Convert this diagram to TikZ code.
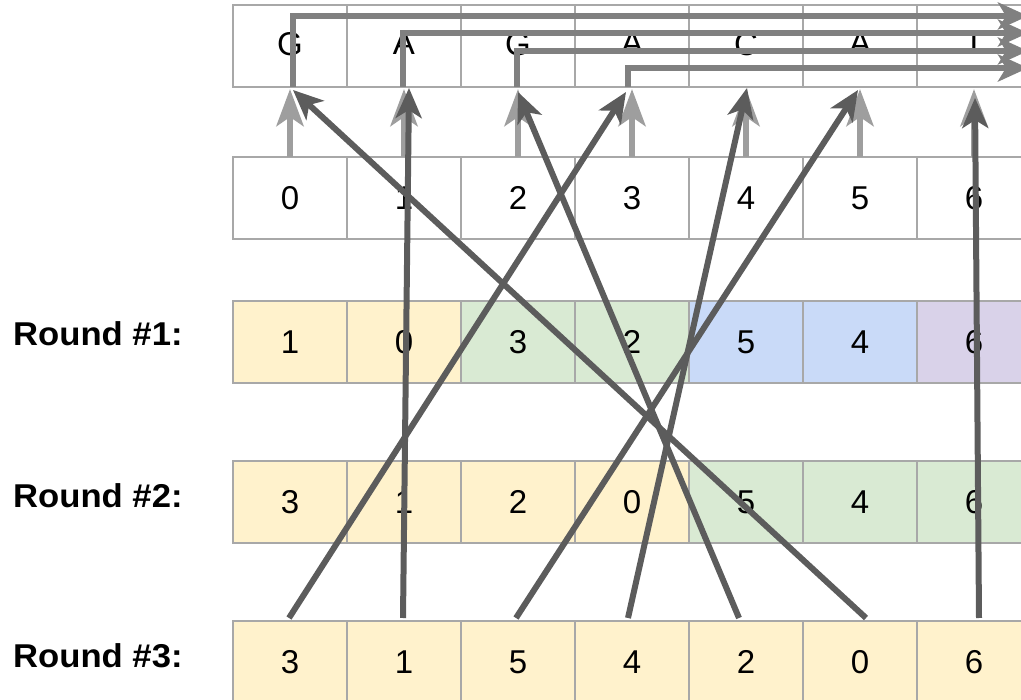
\documentclass[tikz,border=0pt]{standalone}
\usepackage{fontspec}
\setmainfont{Liberation Sans}
\newfontfamily\labelfont[FakeStretch=1.05]{Liberation Sans}
\usetikzlibrary{arrows.meta}

\definecolor{cellline}{HTML}{A8A8A8}
\definecolor{yel}{HTML}{FFF2CC}
\definecolor{grn}{HTML}{D9EAD3}
\definecolor{blu}{HTML}{C9DAF8}
\definecolor{pur}{HTML}{D9D2E9}
\definecolor{lightg}{HTML}{9E9E9E}
\definecolor{midg}{HTML}{808080}
\definecolor{darkg}{HTML}{5C5C5C}

\tikzset{
  cell/.style={draw=cellline, line width=1.5pt, minimum width=114pt,
    minimum height=82pt, inner sep=0pt, outer sep=0pt,
    font=\fontsize{33}{40}\selectfont},
  lettercell/.style={cell, fill=white, text depth=5pt},
  rowlabel/.style={anchor=base west, inner sep=0pt,
    font=\labelfont\fontsize{33}{38}\selectfont\bfseries},
  idxarrow/.style={draw=lightg, line width=6.5pt,
    -{Stealth[length=37pt,width=27pt,inset=9pt]}},
  routearrow/.style={draw=midg, line width=6pt,
    -{Stealth[length=30pt,width=27pt,inset=8pt]}},
  permarrow/.style={draw=darkg, line width=6pt,
    -{Stealth[length=30pt,width=26pt,inset=8pt]}}
}

\begin{document}
\begin{tikzpicture}[x=1pt, y=-1pt]
  \useasboundingbox (0,0) rectangle (1021,700);
  \clip (0,0) rectangle (1021,700);

  % sequence row
  \foreach \v [count=\k from 0] in {G,A,G,A,C,A,T}
    \node[lettercell] (t\k) at (290+114*\k, 46) {\v};

  % index row
  \foreach \k in {0,...,6}
    \node[cell, fill=white] (i\k) at (290+114*\k, 198) {\k};

  % round rows
  \foreach \v/\c [count=\k from 0] in {1/yel,0/yel,3/grn,2/grn,5/blu,4/blu,6/pur}
    \node[cell, fill=\c] (a\k) at (290+114*\k, 342) {\v};
  \foreach \v/\c [count=\k from 0] in {3/yel,1/yel,2/yel,0/yel,5/grn,4/grn,6/grn}
    \node[cell, fill=\c] (b\k) at (290+114*\k, 502) {\v};
  \foreach \v [count=\k from 0] in {3,1,5,4,2,0,6}
    \node[cell, fill=yel] (c\k) at (290+114*\k, 662) {\v};

  % labels
  \node[rowlabel] (l1) at (13,346) {Round \#1:};
  \node[rowlabel] (l2) at (13,508) {Round \#2:};
  \node[rowlabel] (l3) at (13,667) {Round \#3:};

  % index -> sequence arrows
  \foreach \k in {0,...,6}
    \draw[idxarrow] (i\k.north) -- ([yshift=-2pt]t\k.south);

  % routed outputs leaving to the right
  \coordinate (e0) at (1028,16);
  \coordinate (e1) at (1028,33);
  \coordinate (e2) at (1028,51);
  \coordinate (e3) at (1028,68);
  \draw[routearrow] ([xshift=3pt]t0.south) |- (e0);
  \draw[routearrow] ([xshift=-1pt]t1.south) |- (e1);
  \draw[routearrow] ([xshift=-1pt]t2.south) |- (e2);
  \draw[routearrow] ([xshift=-4pt]t3.south) |- (e3);

  % final permutation arrows
  \draw[permarrow] ([xshift=-1pt,yshift=3pt]c0.north) -- ([xshift=-6pt,yshift=-5pt]t3.south);
  \draw[permarrow] ([xshift=-1pt,yshift=3pt]c1.north) -- ([xshift=5pt,yshift=-1pt]t1.south);
  \draw[permarrow] ([xshift=-2pt,yshift=3pt]c2.north) -- ([xshift=-2pt,yshift=-3pt]t5.south);
  \draw[permarrow] ([xshift=-4pt,yshift=3pt]c3.north) -- ([xshift=1pt,yshift=-1pt]t4.south);
  \draw[permarrow] ([xshift=-7pt,yshift=3pt]c4.north) -- ([yshift=-5pt]t2.south);
  \draw[permarrow] ([xshift=6pt,yshift=3pt]c5.north) -- ([xshift=3pt,yshift=-3pt]t0.south);
  \draw[permarrow] ([xshift=5pt,yshift=3pt]c6.north) -- ([xshift=1pt,yshift=-11pt]t6.south);
\end{tikzpicture}
\end{document}
